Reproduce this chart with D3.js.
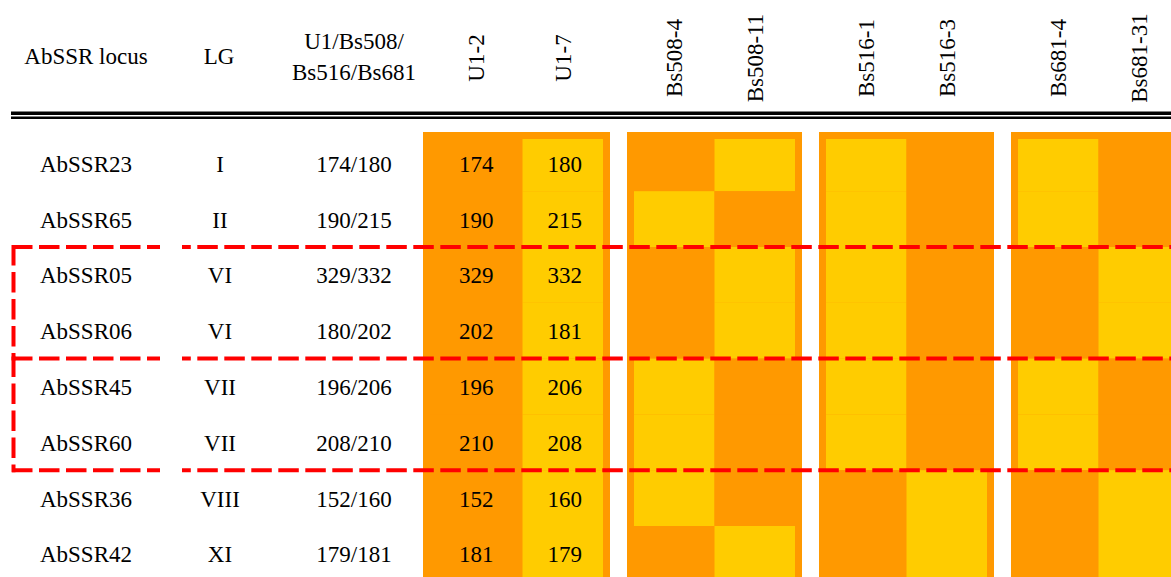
<!DOCTYPE html>
<html>
<head>
<meta charset="utf-8">
<script src="https://cdn.jsdelivr.net/npm/d3@7"></script>
<style>
  html, body { margin: 0; padding: 0; background: #ffffff; }
  svg { display: block; }
  text { font-family: "Liberation Serif", "Times New Roman", serif; fill: #000; }
</style>
</head>
<body>
<svg id="chart" width="1171" height="577"></svg>
<script>
// ---------------- data ----------------
const loci = ["AbSSR23", "AbSSR65", "AbSSR05", "AbSSR06", "AbSSR45", "AbSSR60", "AbSSR36", "AbSSR42"];
const linkageGroups = ["I", "II", "VI", "VI", "VII", "VII", "VIII", "XI"];
const parentalAlleles = ["174/180", "190/215", "329/332", "180/202", "196/206", "208/210", "152/160", "179/181"];
const groups = ["U1", "Bs508", "Bs516", "Bs681"];
const isolates = ["U1-2", "U1-7", "Bs508-4", "Bs508-11", "Bs516-1", "Bs516-3", "Bs681-4", "Bs681-31"];
const u12Values = [174, 190, 329, 202, 196, 210, 152, 181];
const u17Values = [180, 215, 332, 181, 206, 208, 160, 179];
// genotype class per isolate: "A" = orange allele, "B" = yellow allele
const genoU1_2     = ["A", "A", "A", "A", "A", "A", "A", "A"];
const genoU1_7     = ["B", "B", "B", "B", "B", "B", "B", "B"];
const genoBs508_4  = ["A", "B", "A", "A", "B", "B", "B", "A"];
const genoBs508_11 = ["B", "A", "B", "B", "A", "A", "A", "B"];
const genoBs516_1  = ["B", "B", "B", "B", "B", "B", "A", "A"];
const genoBs516_3  = ["A", "A", "A", "A", "A", "A", "B", "B"];
const genoBs681_4  = ["B", "B", "A", "A", "B", "B", "A", "A"];
const genoBs681_31 = ["A", "A", "B", "B", "A", "A", "B", "B"];
const highlightStart = ["AbSSR05", "AbSSR45"]; // dashed boxes, two loci each

// ---------------- build ----------------
const genotypes = [genoU1_2, genoU1_7, genoBs508_4, genoBs508_11, genoBs516_1, genoBs516_3, genoBs681_4, genoBs681_31];
const cellValues = [u12Values, u17Values];
const colorScale = d3.scaleOrdinal().domain(["A", "B"]).range(["#FF9900", "#FFCC00"]);

const W = 1171, H = 577;
const svg = d3.select("#chart");
const FS = 23;

const groupX = d3.scaleBand().domain(groups).range([435, 1186]).paddingInner(17 / 192).paddingOuter(0);
const PAD = 7;
const colX = d3.scaleBand().domain([0, 1]).range([PAD, groupX.bandwidth() - PAD]);
const firstExtra = 12;
const y = d3.scaleBand().domain(loci).range([135.4, 581.8]);
const blockTop = 132;

function colLeft(i) {
  const g = groups[Math.floor(i / 2)], k = i % 2;
  let x = groupX(g) + colX(k);
  if (i === 0) x -= firstExtra;
  return x;
}
function colWidth(i) { return colX.bandwidth() + (i === 0 ? firstExtra : 0); }
function colCenter(i) { return colLeft(i) + colWidth(i) / 2; }

// header
const hdr = svg.append("g");
hdr.append("text").attr("x", 86).attr("y", 64).attr("text-anchor", "middle").attr("font-size", FS).text("AbSSR locus");
hdr.append("text").attr("x", 219).attr("y", 64).attr("text-anchor", "middle").attr("font-size", FS).text("LG");
hdr.append("text").attr("x", 354).attr("y", 49).attr("text-anchor", "middle").attr("font-size", FS).text("U1/Bs508/");
hdr.append("text").attr("x", 354).attr("y", 80).attr("text-anchor", "middle").attr("font-size", FS).text("Bs516/Bs681");
hdr.selectAll("text.iso").data(isolates).enter().append("text")
  .attr("class", "iso")
  .attr("transform", (d, i) => `translate(${colCenter(i)},58) rotate(-90)`)
  .attr("text-anchor", "middle")
  .attr("dy", "0.34em")
  .attr("font-size", FS)
  .text(d => d);

// double rule
svg.append("rect").attr("x", 11).attr("y", 111.5).attr("width", W - 11).attr("height", 3.5).attr("fill", "#000");
svg.append("rect").attr("x", 11).attr("y", 116.5).attr("width", W - 11).attr("height", 2.5).attr("fill", "#000");

// group blocks
const defs = svg.append("defs");
defs.append("clipPath").attr("id", "cellclip").append("rect")
  .attr("x", 0).attr("y", blockTop + PAD).attr("width", W).attr("height", H);

svg.append("g").selectAll("rect").data(groups).enter().append("rect")
  .attr("x", (d, i) => groupX(d) - (i === 0 ? firstExtra : 0))
  .attr("y", blockTop)
  .attr("width", (d, i) => groupX.bandwidth() + (i === 0 ? firstExtra : 0))
  .attr("height", H - blockTop + 10)
  .attr("fill", "#FF9900");

// cells
const cells = [];
genotypes.forEach((arr, ci) => arr.forEach((g, ri) => cells.push({ ci, ri, g })));
svg.append("g").attr("clip-path", "url(#cellclip)")
  .selectAll("rect").data(cells).enter().append("rect")
  .attr("x", d => colLeft(d.ci))
  .attr("y", d => y(loci[d.ri]))
  .attr("width", d => colWidth(d.ci))
  .attr("height", y.bandwidth())
  .attr("fill", d => colorScale(d.g));

// row texts
const rowBase = r => y(r) + y.bandwidth() / 2 + 8.4;
const rows = svg.append("g");
rows.selectAll("text.locus").data(loci).enter().append("text")
  .attr("x", 86).attr("y", d => rowBase(d)).attr("text-anchor", "middle").attr("font-size", FS).text(d => d);
rows.selectAll("text.lg").data(linkageGroups).enter().append("text")
  .attr("x", 220).attr("y", (d, i) => rowBase(loci[i])).attr("text-anchor", "middle").attr("font-size", FS).text(d => d);
rows.selectAll("text.al").data(parentalAlleles).enter().append("text")
  .attr("x", 354).attr("y", (d, i) => rowBase(loci[i])).attr("text-anchor", "middle").attr("font-size", FS).text(d => d);
cellValues.forEach((vals, ci) => {
  rows.append("g").selectAll("text").data(vals).enter().append("text")
    .attr("x", colCenter(ci) + (ci === 1 ? 2 : 0))
    .attr("y", (d, i) => rowBase(loci[i]))
    .attr("text-anchor", "middle").attr("font-size", FS).text(d => d);
});

// dashed highlight boxes
const dash = svg.append("g").attr("stroke", "#FF0000").attr("stroke-width", 4).attr("fill", "none")
  .attr("stroke-dasharray", "20.5,6.5");
const lineYs = [y(highlightStart[0]), y(highlightStart[1]), y(highlightStart[1]) + 2 * y.step()];
lineYs.forEach(ly => {
  dash.append("line").attr("x1", 12).attr("x2", 160).attr("y1", ly).attr("y2", ly);
  dash.append("line").attr("x1", 182).attr("x2", W).attr("y1", ly).attr("y2", ly)
    .attr("stroke-dashoffset", 11.7);
});
highlightStart.forEach(s => {
  const y0 = y(s), y1 = y0 + 2 * y.step();
  dash.append("line").attr("x1", 13.5).attr("x2", 13.5).attr("y1", y0 - 2).attr("y2", y1 + 2);
});
</script>
</body>
</html>
